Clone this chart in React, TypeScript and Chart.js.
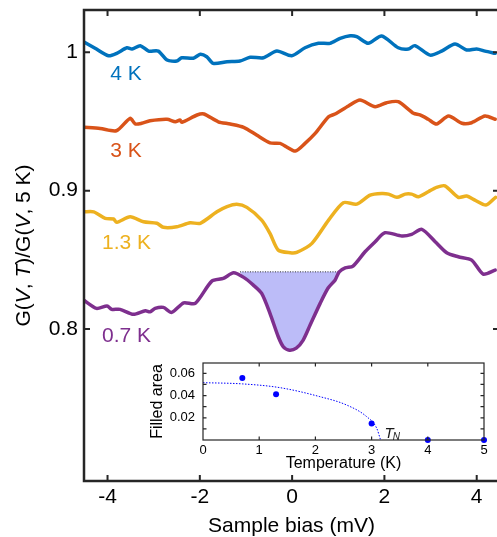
import React, { useEffect, useRef } from 'react';
import { Chart, registerables } from 'chart.js';
Chart.register(...registerables);

const FONT = '"Liberation Sans", Arial, Helvetica, sans-serif';
const AXIS = '#262626';

// ---- main panel data (sample bias in mV, normalized conductance) ----
const bias4K = [-4.52, -4.27, -3.98, -3.80, -3.58, -3.47, -3.29, -3.11, -2.90, -2.71, -2.50, -2.39, -2.14, -1.99, -1.85, -1.71, -1.41, -1.13, -0.91, -0.62, -0.33, -0.01, 0.28, 0.57, 0.82, 1.04, 1.26, 1.40, 1.65, 1.94, 2.30, 2.52, 2.66, 2.99, 3.24, 3.53, 3.78, 4.00, 4.18, 4.40];
const g4K = [1.0077, 1.0029, 0.9975, 0.9993, 1.0033, 1.0024, 1.0048, 1.0009, 1.0009, 0.9944, 0.9937, 0.9961, 0.9957, 0.9986, 0.9968, 0.9920, 0.9932, 0.9937, 0.9964, 0.9961, 1.0009, 0.9975, 1.0033, 1.0065, 1.0065, 1.0101, 1.0120, 1.0113, 1.0065, 1.0118, 1.0033, 1.0024, 1.0048, 0.9980, 1.0009, 1.0060, 1.0017, 1.0024, 1.0009, 0.9993];

const bias3K = [-4.52, -4.16, -3.81, -3.51, -3.40, -3.26, -3.08, -2.71, -2.53, -2.43, -2.39, -2.06, -1.91, -1.60, -1.34, -1.05, -0.77, -0.48, -0.26, -0.15, 0.07, 0.28, 0.50, 0.79, 0.93, 1.22, 1.47, 1.80, 2.05, 2.30, 2.63, 2.77, 2.95, 3.13, 3.39, 3.68, 3.89, 4.18, 4.40];
const g3K = [0.9458, 0.9450, 0.9433, 0.9523, 0.9482, 0.9487, 0.9505, 0.9516, 0.9498, 0.9510, 0.9494, 0.9547, 0.9554, 0.9498, 0.9482, 0.9458, 0.9402, 0.9346, 0.9342, 0.9322, 0.9286, 0.9342, 0.9414, 0.9534, 0.9554, 0.9612, 0.9655, 0.9607, 0.9636, 0.9643, 0.9559, 0.9547, 0.9516, 0.9482, 0.9540, 0.9487, 0.9491, 0.9540, 0.9516];

const bias13K = [-4.52, -4.30, -4.05, -3.87, -3.80, -3.51, -3.22, -2.93, -2.79, -2.50, -2.21, -1.99, -1.63, -1.41, -1.20, -0.98, -0.66, -0.48, -0.30, -0.04, 0.10, 0.43, 0.79, 1.11, 1.40, 1.69, 1.94, 2.09, 2.27, 2.45, 2.59, 2.74, 2.95, 3.13, 3.31, 3.60, 3.78, 3.96, 4.20, 4.41];
const g13K = [0.8847, 0.8847, 0.8800, 0.8795, 0.8771, 0.8811, 0.8775, 0.8764, 0.8735, 0.8739, 0.8768, 0.8764, 0.8847, 0.8884, 0.8901, 0.8879, 0.8787, 0.8691, 0.8570, 0.8551, 0.8554, 0.8619, 0.8787, 0.8913, 0.8903, 0.8968, 0.8980, 0.8975, 0.8952, 0.8975, 0.8975, 0.8956, 0.8992, 0.9024, 0.9035, 0.8952, 0.8961, 0.8932, 0.8896, 0.8952];

const bias07K = [-4.52, -4.24, -4.01, -3.91, -3.73, -3.44, -3.18, -3.08, -2.97, -2.79, -2.61, -2.35, -2.10, -1.74, -1.49, -1.27, -1.05, -0.84, -0.66, -0.48, -0.30, -0.19, -0.06, 0.09, 0.24, 0.39, 0.61, 0.78, 0.93, 1.02, 1.15, 1.32, 1.58, 1.80, 2.01, 2.38, 2.59, 2.81, 3.10, 3.35, 3.60, 3.89, 4.14, 4.40];
const g07K = [0.8209, 0.8149, 0.8166, 0.8142, 0.8142, 0.8106, 0.8132, 0.8124, 0.8149, 0.8156, 0.8120, 0.8189, 0.8185, 0.8346, 0.8366, 0.8406, 0.8373, 0.8317, 0.8257, 0.8113, 0.7944, 0.7871, 0.7847, 0.7862, 0.7920, 0.8028, 0.8187, 0.8296, 0.8353, 0.8413, 0.8441, 0.8455, 0.8558, 0.8631, 0.8696, 0.8672, 0.8684, 0.8720, 0.8631, 0.8551, 0.8522, 0.8498, 0.8397, 0.8426];

// filled gap region of the 0.7 K curve
const fillStart = -1.13;
const fillEnd = 1.02;
const fillLevel = 0.8413;

const xTickValues = [-4, -2, 0, 2, 4];
const yTickValues = [0.8, 0.9, 1.0];

const seriesLabels = ['4 K', '3 K', '1.3 K', '0.7 K'];
const seriesColors = ['rgb(0,114,189)', 'rgb(217,83,25)', 'rgb(237,177,32)', 'rgb(126,47,142)'];
// label anchor (bias, conductance) for each curve label
const labelBias = [-3.94, -3.94, -4.12, -4.12];
const labelG = [0.9854, 0.930, 0.8636, 0.7963];

// ---- inset data ----
const tempK = [0.7, 1.3, 3, 4, 5];
const filledArea = [0.0558, 0.0412, 0.0148, 0, 0];
const fitT = [0, 0.7, 1.37, 2.08, 2.55, 2.91, 3.09, 3.16];
const fitArea = [0.0516, 0.0505, 0.0471, 0.039, 0.0316, 0.0211, 0.0107, 0];
const insetXTicks = [0, 1, 2, 3, 4, 5];
const insetYLabels = [0.02, 0.04, 0.06];
const insetYMarks = [0.01, 0.02, 0.03, 0.04, 0.05, 0.06];
const tnT = 3.23;
const tnA = 0.0072;

const zip = (xs: number[], ys: number[]) => xs.map((x, i) => ({ x, y: ys[i] }));

const noPad = (s: any) => {
  s.paddingTop = 0;
  s.paddingBottom = 0;
  s.paddingLeft = 0;
  s.paddingRight = 0;
};

const mainPlugin = {
  id: 'mainDecor',
  afterDraw(chart: any) {
    const { ctx, chartArea: a, scales } = chart;
    const sx = scales.x, sy = scales.y;
    ctx.save();
    ctx.strokeStyle = AXIS;
    ctx.lineCap = 'square';
    ctx.lineWidth = 2.5;
    ctx.beginPath();
    ctx.moveTo(a.left, a.bottom); ctx.lineTo(a.left, a.top); ctx.lineTo(a.right, a.top);
    ctx.lineTo(a.right, a.bottom); ctx.lineTo(a.left, a.bottom);
    ctx.stroke();
    ctx.lineCap = 'butt';
    ctx.lineWidth = 2;
    const tl = 6;
    ctx.beginPath();
    xTickValues.forEach((v) => {
      const px = sx.getPixelForValue(v);
      ctx.moveTo(px, a.bottom); ctx.lineTo(px, a.bottom - tl);
      ctx.moveTo(px, a.top); ctx.lineTo(px, a.top + tl);
    });
    yTickValues.forEach((v) => {
      const py = sy.getPixelForValue(v);
      ctx.moveTo(a.left, py); ctx.lineTo(a.left + tl, py);
      ctx.moveTo(a.right, py); ctx.lineTo(a.right - tl, py);
    });
    ctx.stroke();

    // curve labels
    ctx.font = `21px ${FONT}`;
    ctx.textAlign = 'left';
    ctx.textBaseline = 'alphabetic';
    seriesLabels.forEach((t, i) => {
      ctx.fillStyle = seriesColors[i];
      ctx.fillText(t, sx.getPixelForValue(labelBias[i]), sy.getPixelForValue(labelG[i]) + 7.5);
    });

    // y-axis title with italic variables
    const parts: [string, boolean][] = [['G(', false], ['V', true], [', ', false], ['T', true], [')/G(', false], ['V', true], [', 5 K)', false]];
    const fontFor = (it: boolean) => `${it ? 'italic ' : ''}21px ${FONT}`;
    let total = 0;
    parts.forEach(([t, it]) => { ctx.font = fontFor(it); total += ctx.measureText(t).width; });
    ctx.translate(24, (a.top + a.bottom) / 2);
    ctx.rotate(-Math.PI / 2);
    ctx.fillStyle = '#000';
    ctx.textBaseline = 'middle';
    let cx = -total / 2;
    parts.forEach(([t, it]) => {
      ctx.font = fontFor(it);
      ctx.fillText(t, cx, 0);
      cx += ctx.measureText(t).width;
    });
    ctx.restore();
  },
};

const insetPlugin = {
  id: 'insetDecor',
  afterDraw(chart: any) {
    const { ctx, chartArea: a, scales } = chart;
    const sx = scales.x, sy = scales.y;
    ctx.save();
    ctx.strokeStyle = AXIS;
    ctx.lineWidth = 1.2;
    ctx.strokeRect(a.left, a.top, a.right - a.left, a.bottom - a.top);
    const tl = 3.5;
    ctx.beginPath();
    insetXTicks.slice(1, -1).forEach((v) => {
      const px = sx.getPixelForValue(v);
      ctx.moveTo(px, a.bottom); ctx.lineTo(px, a.bottom - tl);
      ctx.moveTo(px, a.top); ctx.lineTo(px, a.top + tl);
    });
    insetYMarks.forEach((v) => {
      const py = sy.getPixelForValue(v);
      ctx.moveTo(a.left, py); ctx.lineTo(a.left + tl, py);
      ctx.moveTo(a.right, py); ctx.lineTo(a.right - tl, py);
    });
    ctx.stroke();
    // T_N label
    const px = sx.getPixelForValue(tnT);
    const py = sy.getPixelForValue(tnA);
    ctx.fillStyle = '#1a1a1a';
    ctx.textBaseline = 'alphabetic';
    ctx.textAlign = 'left';
    ctx.font = `italic 15px ${FONT}`;
    ctx.fillText('T', px, py + 5.5);
    const w = ctx.measureText('T').width;
    ctx.font = `italic 10px ${FONT}`;
    ctx.fillText('N', px + w - 1, py + 7.5);
    ctx.restore();
  },
};

export default function App() {
  const mainRef = useRef<HTMLCanvasElement>(null);
  const insetRef = useRef<HTMLCanvasElement>(null);

  useEffect(() => {
    Chart.defaults.font.family = FONT;
    const purple = zip(bias07K, g07K);
    const fillData = [
      { x: fillStart, y: fillLevel },
      ...purple.filter((p) => p.x > fillStart && p.x < fillEnd),
      { x: fillEnd, y: fillLevel },
    ];
    const lineDs = (data: any[], color: string) => ({
      data,
      borderColor: color,
      borderWidth: 3.5,
      pointRadius: 0,
      tension: 0.25,
      fill: false,
      borderJoinStyle: 'round' as const,
      borderCapStyle: 'round' as const,
      order: 0,
    });

    const main = new Chart(mainRef.current!, {
      type: 'line',
      data: {
        datasets: [
          lineDs(zip(bias4K, g4K), seriesColors[0]),
          lineDs(zip(bias3K, g3K), seriesColors[1]),
          lineDs(zip(bias13K, g13K), seriesColors[2]),
          lineDs(purple, seriesColors[3]),
          {
            data: [{ x: fillStart, y: fillLevel }, { x: fillEnd, y: fillLevel }],
            borderColor: '#333',
            borderWidth: 1,
            borderDash: [1, 1.5],
            pointRadius: 0,
            fill: false,
            order: 5,
          },
          {
            data: fillData,
            borderWidth: 0,
            borderColor: 'rgba(0,0,0,0)',
            backgroundColor: 'rgb(188,188,248)',
            pointRadius: 0,
            tension: 0.25,
            fill: { value: fillLevel },
            order: 10,
          },
        ] as any,
      },
      options: {
        animation: false,
        responsive: false,
        maintainAspectRatio: false,
        parsing: false as any,
        layout: { padding: { top: 10, right: 1, left: 0, bottom: 0 } },
        plugins: { legend: { display: false }, tooltip: { enabled: false } },
        scales: {
          x: {
            type: 'linear',
            min: -4.51,
            max: 4.483,
            grid: { display: false, drawTicks: false },
            border: { display: false },
            ticks: { font: { size: 21 }, color: '#000', padding: 4, autoSkip: false, maxRotation: 0, callback: (v: any) => String(v) },
            afterBuildTicks: (s: any) => { s.ticks = xTickValues.map((value) => ({ value })); },
            afterFit: (s: any) => { s.height = 56; noPad(s); },
            title: { display: true, text: 'Sample bias (mV)', color: '#000', font: { size: 21, lineHeight: 1 }, padding: { top: 0, bottom: 0.5 } },
          },
          y: {
            type: 'linear',
            min: 0.6901,
            max: 1.0306,
            grid: { display: false, drawTicks: false },
            border: { display: false },
            ticks: { font: { size: 21 }, color: '#000', padding: 6, callback: (v: any) => (Math.abs(v - 1) < 1e-9 ? '1' : Number(v).toFixed(1)) },
            afterBuildTicks: (s: any) => { s.ticks = yTickValues.map((value) => ({ value })); },
            afterFit: (s: any) => { s.width = 84; noPad(s); },
          },
        },
      } as any,
      plugins: [mainPlugin],
    });

    const inset = new Chart(insetRef.current!, {
      type: 'line',
      data: {
        datasets: [
          {
            data: zip(tempK, filledArea),
            showLine: false,
            pointRadius: 3,
            pointBackgroundColor: 'rgb(0,0,255)',
            pointBorderColor: 'rgb(0,0,255)',
            pointBorderWidth: 0,
            clip: false,
            order: 0,
          },
          {
            data: zip(fitT, fitArea),
            borderColor: 'rgb(0,0,255)',
            borderWidth: 1,
            borderDash: [1.5, 1.5],
            pointRadius: 0,
            cubicInterpolationMode: 'monotone',
            fill: false,
            order: 1,
          },
        ] as any,
      },
      options: {
        animation: false,
        responsive: false,
        maintainAspectRatio: false,
        parsing: false as any,
        layout: { padding: { top: 18, right: 13, left: 0, bottom: 0 } },
        plugins: { legend: { display: false }, tooltip: { enabled: false } },
        scales: {
          x: {
            type: 'linear',
            min: 0,
            max: 5,
            grid: { display: false, drawTicks: false },
            border: { display: false },
            ticks: { font: { size: 13 }, color: '#000', padding: 3, autoSkip: false, maxRotation: 0, callback: (v: any) => String(v) },
            afterBuildTicks: (s: any) => { s.ticks = insetXTicks.map((value) => ({ value })); },
            afterFit: (s: any) => { s.height = 38; noPad(s); },
            title: { display: true, text: 'Temperature (K)', color: '#000', font: { size: 16, lineHeight: 1.2 }, padding: { top: 0, bottom: 4.4 } },
          },
          y: {
            type: 'linear',
            min: 0,
            max: 0.0693,
            grid: { display: false, drawTicks: false },
            border: { display: false },
            ticks: { font: { size: 13 }, color: '#000', padding: 8, callback: (v: any) => Number(v).toFixed(2) },
            afterBuildTicks: (s: any) => { s.ticks = insetYLabels.map((value) => ({ value })); },
            afterFit: (s: any) => { s.width = 63; noPad(s); },
            title: { display: true, text: 'Filled area', color: '#000', font: { size: 16, lineHeight: 1.2 }, padding: { top: 8.4, bottom: 0 } },
          },
        },
      } as any,
      plugins: [insetPlugin],
    });

    return () => {
      main.destroy();
      inset.destroy();
    };
  }, []);

  return (
    <div style={{ position: 'fixed', left: 0, top: 0, width: 497, height: 537, overflow: 'hidden', background: '#fff' }}>
      <canvas ref={mainRef} width={500} height={537} style={{ position: 'absolute', left: 0, top: 0 }} />
      <canvas ref={insetRef} width={357} height={133} style={{ position: 'absolute', left: 140, top: 345 }} />
    </div>
  );
}
